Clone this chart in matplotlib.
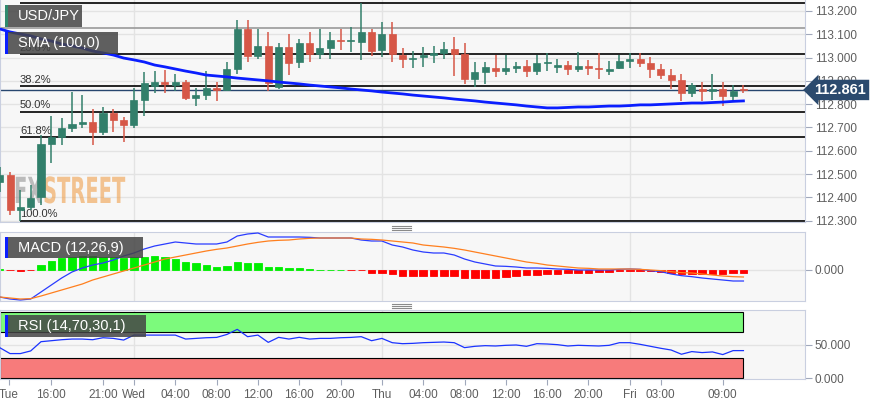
import matplotlib
matplotlib.use("Agg")
import matplotlib.pyplot as plt
from matplotlib.patches import Rectangle, PathPatch
from matplotlib.textpath import TextPath
from matplotlib.font_manager import FontProperties
from matplotlib.transforms import Affine2D
from matplotlib.lines import Line2D

W, H = 875, 405
plt.rcParams['font.family'] = ['Liberation Sans', 'DejaVu Sans']

# hourly candles, x = hours from Wed 00:00
hours = list(range(-13, 60))

opens = [112.466, 112.496, 112.346, 112.359, 112.402, 112.629, 112.659, 112.698, 112.715, 112.724,
         112.681, 112.762, 112.732, 112.711, 112.818, 112.878, 112.895, 112.882, 112.895, 112.827,
         112.839, 112.870, 112.861, 112.951, 113.123, 113.007, 113.050, 112.874, 113.045, 112.981,
         113.063, 113.015, 113.041, 113.076, 113.071, 113.067, 113.110, 113.033, 113.101, 113.011,
         112.994, 113.003, 113.011, 113.020, 113.037, 113.015, 112.908, 112.938, 112.955, 112.942,
         112.955, 112.964, 112.942, 112.977, 112.960, 112.968, 112.951, 112.964, 112.955, 112.942,
         112.955, 112.985, 112.994, 112.977, 112.951, 112.925, 112.904, 112.848, 112.865, 112.857,
         112.865, 112.835, 112.865]
highs = [112.530, 112.509, 112.432, 112.453, 112.668, 112.749, 112.741, 112.852, 112.839, 112.779,
         112.788, 112.779, 112.745, 112.870, 112.938, 112.942, 112.947, 112.930, 112.904, 112.870,
         112.942, 112.895, 112.981, 113.161, 113.161, 113.123, 113.110, 113.063, 113.101, 113.080,
         113.110, 113.123, 113.110, 113.123, 113.131, 113.234, 113.123, 113.153, 113.153, 113.041,
         113.028, 113.045, 113.050, 113.067, 113.088, 113.063, 112.981, 112.981, 113.011, 113.011,
         112.981, 112.990, 113.011, 113.020, 112.994, 112.985, 113.024, 112.990, 113.020, 112.985,
         113.011, 113.020, 113.020, 113.003, 112.973, 112.951, 112.930, 112.891, 112.895, 112.930,
         112.895, 112.882, 112.882]
lows = [112.423, 112.324, 112.300, 112.346, 112.367, 112.548, 112.625, 112.681, 112.698, 112.625,
        112.668, 112.681, 112.638, 112.698, 112.749, 112.848, 112.848, 112.857, 112.818, 112.792,
        112.818, 112.814, 112.857, 112.930, 112.981, 112.994, 112.857, 112.865, 112.925, 112.955,
        112.981, 112.994, 112.994, 113.033, 113.024, 112.990, 113.007, 113.003, 112.981, 112.955,
        112.955, 112.960, 112.977, 112.994, 112.921, 112.887, 112.874, 112.887, 112.917, 112.925,
        112.934, 112.917, 112.925, 112.942, 112.934, 112.925, 112.938, 112.925, 112.908, 112.925,
        112.951, 112.955, 112.960, 112.912, 112.908, 112.865, 112.814, 112.831, 112.814, 112.818,
        112.792, 112.813, 112.848]
closes = [112.496, 112.346, 112.359, 112.397, 112.629, 112.659, 112.698, 112.715, 112.724, 112.681,
          112.762, 112.732, 112.711, 112.818, 112.891, 112.895, 112.887, 112.895, 112.827, 112.839,
          112.870, 112.861, 112.951, 113.123, 113.007, 113.050, 112.891, 113.045, 112.977, 113.063,
          113.015, 113.041, 113.076, 113.071, 113.074, 113.110, 113.028, 113.101, 113.015, 112.994,
          112.998, 113.011, 113.020, 113.037, 113.015, 112.908, 112.938, 112.960, 112.942, 112.955,
          112.964, 112.942, 112.977, 112.981, 112.968, 112.951, 112.964, 112.955, 112.951, 112.951,
          112.985, 112.994, 112.977, 112.951, 112.925, 112.904, 112.848, 112.882, 112.857, 112.865,
          112.835, 112.857, 112.861]
sma100 = [113.123, 113.110, 113.101, 113.093, 113.080, 113.071, 113.058, 113.050, 113.041, 113.028,
          113.020, 113.011, 112.998, 112.990, 112.981, 112.968, 112.960, 112.951, 112.942, 112.934,
          112.925, 112.921, 112.917, 112.912, 112.908, 112.904, 112.900, 112.895, 112.891, 112.887,
          112.882, 112.878, 112.874, 112.870, 112.865, 112.861, 112.857, 112.852, 112.848, 112.844,
          112.839, 112.835, 112.831, 112.827, 112.822, 112.818, 112.814, 112.809, 112.805, 112.801,
          112.797, 112.792, 112.788, 112.784, 112.784, 112.786, 112.788, 112.788, 112.790, 112.792,
          112.792, 112.794, 112.797, 112.797, 112.799, 112.801, 112.803, 112.805, 112.805, 112.807,
          112.809, 112.812, 112.814]

macd_line = [-0.081, -0.087, -0.090, -0.087, -0.066, -0.045, -0.024, -0.006, 0.006, 0.015,
             0.021, 0.030, 0.042, 0.051, 0.063, 0.072, 0.078, 0.084, 0.081, 0.078,
             0.078, 0.078, 0.084, 0.102, 0.108, 0.111, 0.099, 0.099, 0.099, 0.099,
             0.098, 0.096, 0.096, 0.096, 0.096, 0.090, 0.087, 0.087, 0.075, 0.069,
             0.060, 0.054, 0.051, 0.051, 0.045, 0.033, 0.024, 0.018, 0.012, 0.011,
             0.009, 0.006, 0.006, 0.005, 0.003, 0.002, 0.000, 0.000, 0.000, 0.000,
             0.002, 0.003, 0.002, -0.002, -0.005, -0.012, -0.017, -0.020, -0.024, -0.027,
             -0.030, -0.033, -0.033]
signal_line = [-0.081, -0.084, -0.087, -0.086, -0.078, -0.069, -0.060, -0.051, -0.042, -0.030,
               -0.021, -0.012, -0.003, 0.006, 0.015, 0.024, 0.033, 0.039, 0.045, 0.051,
               0.057, 0.062, 0.066, 0.072, 0.078, 0.083, 0.087, 0.089, 0.090, 0.093,
               0.095, 0.096, 0.096, 0.096, 0.096, 0.093, 0.092, 0.090, 0.087, 0.084,
               0.081, 0.075, 0.072, 0.069, 0.065, 0.060, 0.054, 0.048, 0.042, 0.036,
               0.030, 0.024, 0.020, 0.015, 0.012, 0.009, 0.006, 0.005, 0.003, 0.003,
               0.003, 0.003, 0.002, 0.000, -0.002, -0.005, -0.008, -0.009, -0.012, -0.015,
               -0.018, -0.020, -0.021]
macd_hist = [0.002, -0.001, -0.002, -0.001, 0.015, 0.027, 0.036, 0.039, 0.042, 0.042,
             0.039, 0.039, 0.036, 0.039, 0.039, 0.042, 0.039, 0.033, 0.024, 0.021,
             0.015, 0.009, 0.012, 0.024, 0.021, 0.021, 0.009, 0.009, 0.005, 0.006,
             0.002, 0.001, 0.001, 0.0005, -0.001, -0.001, -0.009, -0.009, -0.012, -0.017,
             -0.018, -0.018, -0.018, -0.018, -0.018, -0.024, -0.024, -0.024, -0.023, -0.020,
             -0.018, -0.015, -0.014, -0.012, -0.011, -0.009, -0.009, -0.008, -0.006, -0.005,
             -0.003, -0.002, -0.002, -0.003, -0.005, -0.008, -0.011, -0.012, -0.012, -0.012,
             -0.011, -0.009, -0.008]
rsi = [46, 37, 37, 41, 55, 56.5, 58, 59, 59, 58,
       61, 60, 57.5, 65, 65, 65, 65, 65, 59, 60,
       61, 61.5, 66, 73.7, 62.6, 65, 54, 61.6, 59, 61.6,
       59, 60, 60, 61, 61.5, 62.6, 56.5, 60, 53.5, 52,
       52.5, 53.5, 54, 54.5, 53.5, 46, 48, 49, 48.5, 49.5,
       50, 48, 52, 51.5, 50.5, 48.5, 49.5, 49, 48.5, 49.5,
       53.5, 53.5, 51, 48, 45, 42.4, 36, 40, 38.5, 39.5,
       35.5, 41.5, 41.5]

fib_levels = [113.234, 113.014, 112.877, 112.767, 112.657, 112.300]
fib_labels = ['0.0%', '23.6%', '38.2%', '50.0%', '61.8%', '100.0%']
fib_start = -11.04
ref_line = 113.127
last_price = 112.861

price_ticks = [112.3, 112.4, 112.5, 112.6, 112.7, 112.8, 112.9, 113.0, 113.1, 113.2]
day_hours = [0, 24, 48]
tick_hours = [-12.1, -8, -3, 0, 4, 8, 12, 16, 20, 24, 28, 32, 36, 40, 44, 48, 51, 57]
tick_labels = ['Tue', '16:00', '21:00', 'Wed', '04:00', '08:00', '12:00', '16:00', '20:00',
               'Thu', '04:00', '08:00', '12:00', '16:00', '20:00', 'Fri', '03:00', '09:00']

UP, DOWN = '#327f6b', '#d65747'
PANEL_BG, BORDER, GRID = '#f7f7f7', '#c9cfe0', '#e3e3e3'
TICK_C, LABEL_C = '#a0a8bb', '#5e5e5e'
XLIM = (-12.97, 64.96)

fig = plt.figure(figsize=(W / 100, H / 100), dpi=100)


def px_axes(left, top, right, bottom):
    return fig.add_axes([left / W, 1 - bottom / H, (right - left) / W, (bottom - top) / H])


ax = px_axes(0, 0, 805, 222)
ax_m = px_axes(0, 232, 805, 301)
ax_r = px_axes(0, 310, 805, 379)

for a in (ax, ax_m, ax_r):
    a.set_facecolor(PANEL_BG)
    a.set_xlim(*XLIM)
    a.set_axisbelow(True)
    for s in a.spines.values():
        s.set_color(BORDER)
    a.yaxis.tick_right()
    a.tick_params(axis='y', length=5, color=TICK_C, labelcolor=LABEL_C, labelsize=8.5, pad=2)
    for d in day_hours:
        a.axvline(d, color=GRID, lw=1, zorder=0)
ax.spines['top'].set_visible(False)

# ---- main price panel ----
ax.set_ylim(112.2944, 113.247)
ax.set_yticks(price_ticks)
ax.set_yticklabels(['%.3f' % v for v in price_ticks])
ax.grid(axis='y', color=GRID, lw=1)
ax.set_xticks([])

# watermark
fp = FontProperties(family='DejaVu Sans', weight='bold')
for txt, x0, col, al in [('FX', 14, '#8a8a8a', 0.55), ('STREET', 43, '#f0a04b', 0.6)]:
    tp = TextPath((0, 0), txt, size=1, prop=fp)
    tr = Affine2D().scale(19.5 / W, 36 / H).translate(x0 / W, (H - 203) / H) + fig.transFigure
    ax.add_patch(PathPatch(tp, transform=tr, fc=col, ec='none', alpha=al, zorder=1))

for lvl, lab in zip(fib_levels, fib_labels):
    ax.hlines(lvl, fib_start, XLIM[1], colors='black', lw=1.2, zorder=2)
    ax.text(fib_start, lvl + 0.006, lab, fontsize=8, color='#333333', va='bottom', ha='left', zorder=2)
ax.axhline(ref_line, color='#9a9a9a', lw=1.2, zorder=2)
ax.axhline(last_price, color='#27466f', lw=1, zorder=2)

cols = [UP if c >= o else DOWN for o, c in zip(opens, closes)]
ax.vlines(hours, lows, highs, colors=cols, lw=1.1, zorder=3)
bottoms = [min(o, c) for o, c in zip(opens, closes)]
heights = [max(abs(c - o), 0.002) for o, c in zip(opens, closes)]
ax.bar(hours, heights, bottom=bottoms, width=0.68, color=cols, edgecolor=cols, lw=0.5, zorder=4)

ax.plot(hours, sma100, color='#0a1eff', lw=2, zorder=5)

ax.text(1.0115, last_price, '%.3f' % last_price, transform=ax.get_yaxis_transform(),
        ha='left', va='center', color='white', fontsize=10.5, fontweight='bold', clip_on=False, zorder=30,
        bbox=dict(boxstyle='larrow,pad=0.22', fc='#2b4a6e', ec='none'))

# ---- MACD panel ----
ax_m.set_ylim(-0.093, 0.114)
ax_m.set_yticks([0])
ax_m.set_yticklabels(['0.000'])
ax_m.set_xticks([])
ax_m.axhline(0, color=GRID, lw=1, zorder=0)
hcols = ['#00ee00' if v >= 0 else '#ff0000' for v in macd_hist]
ax_m.bar(hours, macd_hist, width=0.72, color=hcols, edgecolor=hcols, lw=0.6, zorder=2)
ax_m.plot(hours, macd_line, color='#2a3cff', lw=0.9, zorder=3)
ax_m.plot(hours, signal_line, color='#ff7f1e', lw=0.9, zorder=3)

# ---- RSI panel ----
ax_r.set_ylim(-1.5, 103)
ax_r.set_yticks([0, 50])
ax_r.set_yticklabels(['0.000', '50.000'])
ax_r.axhline(50, color=GRID, lw=1, zorder=0)
span = hours[-1] - hours[0]
ax_r.add_patch(Rectangle((hours[0], 70), span, 30, fc='#7cfa7c', ec='black', lw=0.8, zorder=1))
ax_r.add_patch(Rectangle((hours[0], 0), span, 30, fc='#f77b7b', ec='black', lw=0.8, zorder=1))
ax_r.plot(hours, rsi, color='#1a33ff', lw=0.9, zorder=3)
ax_r.set_xticks(tick_hours)
ax_r.set_xticklabels(tick_labels)
ax_r.tick_params(axis='x', length=4, color=TICK_C, labelcolor=LABEL_C, labelsize=8.5, pad=3)


# ---- indicator labels ----
def label_box(x0, y0, x1, y1, text, stripe):
    fig.add_artist(Rectangle((x0 / W, 1 - y1 / H), (x1 - x0) / W, (y1 - y0) / H,
                             transform=fig.transFigure, fc='#444444', alpha=0.85, ec='none', zorder=20))
    fig.add_artist(Rectangle((x0 / W, 1 - y1 / H), 2.5 / W, (y1 - y0) / H,
                             transform=fig.transFigure, fc=stripe, ec='none', zorder=21))
    fig.text((x0 + 13) / W, 1 - (y0 + y1) / 2 / H, text, color='white', fontsize=10.5,
             va='center', ha='left', zorder=22)


label_box(5, 5, 82, 27, 'USD/JPY', '#2f8a6e')
label_box(5, 32, 118, 54, 'SMA (100,0)', '#0a1eff')
label_box(5, 237, 143, 258, 'MACD (12,26,9)', '#0a1eff')
label_box(5, 315, 146, 337, 'RSI (14,70,30,1)', '#0a1eff')

# panel resize handles
for yb in (226, 304):
    for k in range(3):
        yy = 1 - (yb + 2 * k) / H
        fig.add_artist(Line2D([392 / W, 411 / W], [yy, yy], color='#8a8a8a', lw=0.8,
                              transform=fig.transFigure))

fig.savefig('out.png', dpi=100, facecolor='white')
